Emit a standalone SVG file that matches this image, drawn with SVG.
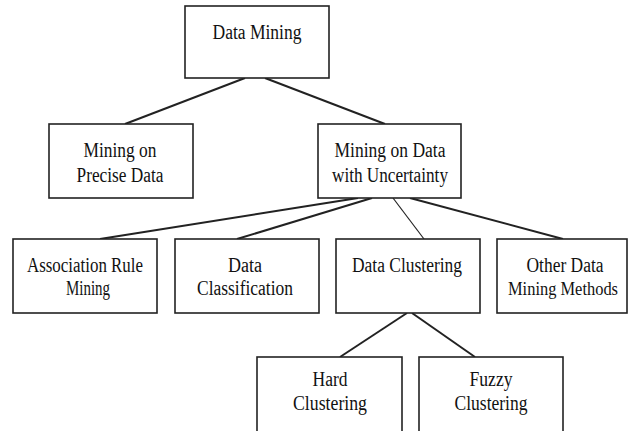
<svg xmlns="http://www.w3.org/2000/svg" width="629" height="431" viewBox="0 0 629 431">
<style>
.box{fill:#fff;stroke:#222;stroke-width:1.6}
.lbl{font-family:"Liberation Serif","Times New Roman",serif;font-size:20px;fill:#111;text-anchor:middle}
.sm{font-size:18.5px}
.edge{stroke:#222;stroke-width:2;fill:none}
.thin{stroke-width:1.2}
</style>
<rect width="629" height="431" fill="#fff"/>
<g id="connectors">
<line class="edge" x1="245" y1="78" x2="125" y2="124"/>
<line class="edge" x1="265" y1="78" x2="385" y2="124"/>
<line class="edge" x1="358" y1="198" x2="100" y2="239"/>
<line class="edge" x1="372" y1="198" x2="237" y2="239"/>
<line class="edge thin" x1="393" y1="198" x2="424" y2="239"/>
<line class="edge" x1="410" y1="198" x2="563" y2="239"/>
<line class="edge" x1="407" y1="313" x2="340" y2="357"/>
<line class="edge" x1="412" y1="313" x2="475" y2="357"/>
</g>
<g id="data-mining">
<rect class="box" x="185" y="6" width="144" height="72"/>
<text class="lbl" x="257" y="39" textLength="89" lengthAdjust="spacingAndGlyphs">Data Mining</text>
</g>
<g id="precise">
<rect class="box" x="49" y="124" width="144" height="74"/>
<text class="lbl" x="120" y="157" textLength="73" lengthAdjust="spacingAndGlyphs">Mining on</text>
<text class="lbl" x="120" y="182" textLength="87" lengthAdjust="spacingAndGlyphs">Precise Data</text>
</g>
<g id="uncertainty">
<rect class="box" x="318" y="124" width="143" height="74"/>
<text class="lbl" x="390" y="157" textLength="111" lengthAdjust="spacingAndGlyphs">Mining on Data</text>
<text class="lbl" x="390" y="182" textLength="116" lengthAdjust="spacingAndGlyphs">with Uncertainty</text>
</g>
<g id="association">
<rect class="box" x="13" y="239" width="144" height="74"/>
<text class="lbl" x="85" y="272" textLength="116" lengthAdjust="spacingAndGlyphs">Association Rule</text>
<text class="lbl" x="88" y="295" textLength="44" lengthAdjust="spacingAndGlyphs">Mining</text>
</g>
<g id="classification">
<rect class="box" x="175" y="239" width="144" height="74"/>
<text class="lbl" x="245" y="272" textLength="34" lengthAdjust="spacingAndGlyphs">Data</text>
<text class="lbl" x="245" y="295" textLength="96" lengthAdjust="spacingAndGlyphs">Classification</text>
</g>
<g id="clustering">
<rect class="box" x="336" y="239" width="144" height="74"/>
<text class="lbl" x="407" y="272" textLength="110" lengthAdjust="spacingAndGlyphs">Data Clustering</text>
</g>
<g id="other">
<rect class="box" x="497" y="239" width="130" height="74"/>
<text class="lbl" x="565" y="272" textLength="77" lengthAdjust="spacingAndGlyphs">Other Data</text>
<text class="lbl sm" x="563" y="295" textLength="110" lengthAdjust="spacingAndGlyphs">Mining Methods</text>
</g>
<g id="hard">
<rect class="box" x="257" y="357" width="145" height="90"/>
<text class="lbl" x="330" y="386" textLength="35" lengthAdjust="spacingAndGlyphs">Hard</text>
<text class="lbl" x="330" y="410" textLength="74" lengthAdjust="spacingAndGlyphs">Clustering</text>
</g>
<g id="fuzzy">
<rect class="box" x="419" y="357" width="144" height="90"/>
<text class="lbl" x="491" y="386" textLength="43" lengthAdjust="spacingAndGlyphs">Fuzzy</text>
<text class="lbl" x="491" y="410" textLength="73" lengthAdjust="spacingAndGlyphs">Clustering</text>
</g>
</svg>
